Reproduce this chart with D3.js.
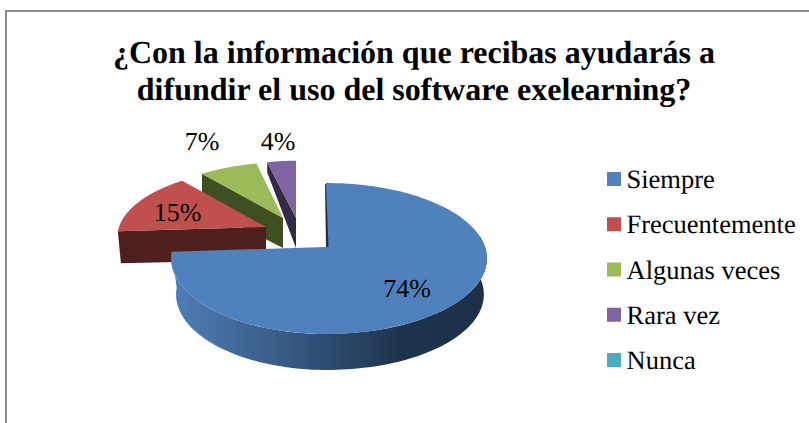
<!DOCTYPE html>
<html><head><meta charset="utf-8">
<script src="https://cdn.jsdelivr.net/npm/d3@7"></script>
<style>html,body{margin:0;padding:0;background:#fff}svg{display:block}text{font-family:"Liberation Serif",serif;fill:#000;text-rendering:geometricPrecision}</style>
</head><body><svg id="c" width="809" height="423"></svg>
<script>
const titleLines = ["¿Con la información que recibas ayudarás a", "difundir el uso del software exelearning?"];
const categories = ["Siempre", "Frecuentemente", "Algunas veces", "Rara vez", "Nunca"];
const values = [74, 15, 7, 4, 0];
const labels = ["74%", "15%", "7%", "4%"];
const colors = ["#4f81bd", "#c0504d", "#9bbb59", "#8064a2", "#4bacc6"];
const wallColors = ["#1d3146", "#4e1f1d", "#404f21", "#332a46"];

// Layout of each exploded slice: apex, radii, wall depth at apex and at rim, end-angle twist, label position
const sliceLayout = [
  {ax: 326, ay: 247, rl: 153, rr: 159, rv: 73.75, d0: 36, d1: 36, tw: 0, lx: 407, ly: 296.5},
  {ax: 266, ay: 227, rl: 147, rr: 147, rv: 67, d0: 33, d1: 32, tw: 0, lx: 177.5, ly: 220.5},
  {ax: 283, ay: 218, rl: 142, rr: 142, rv: 64, d0: 30, d1: 33, tw: 2, lx: 202, ly: 150},
  {ax: 296, ay: 218, rl: 133, rr: 133, rv: 66, d0: 30, d1: 10, tw: 0, lx: 278, ly: 150}
];
const persp = 0.152;

const svg = d3.select("#c");
const pie = d3.pie().sort(null).value(d => d);
const arcs = pie(values);

svg.append("rect").attr("x", 6).attr("y", 11).attr("width", 809).attr("height", 430)
  .attr("fill", "#fff").attr("stroke", "#8c8c8c").attr("stroke-width", 2);

const proj = (L, t) => {
  const X = Math.sin(t), Y = Math.cos(t), s = 1 / (1 + persp * Y);
  return [L.ax + (X < 0 ? L.rl : L.rr) * X * s, L.ay - L.rv * Y * s];
};
const line = d3.line();
const arcPts = (L, a0, a1) => d3.range(0, 121).map(i => proj(L, a0 + (a1 - a0) * i / 120));

const defs = svg.append("defs");
const grad = defs.append("linearGradient").attr("id", "wallBlue").attr("gradientUnits", "userSpaceOnUse")
  .attr("x1", 172).attr("x2", 487).attr("y1", 0).attr("y2", 0);
[[0, "#4f7fb8"], [0.25, "#3f6592"], [0.5, "#2d4c70"], [0.72, "#1e344e"], [1, "#1c3046"]]
  .forEach(([o, c]) => grad.append("stop").attr("offset", o).attr("stop-color", c));

// back slices first: purple, green, red, then the big one
[3, 2, 1].forEach(i => {
  const L = sliceLayout[i], a = arcs[i];
  const rim = proj(L, a.startAngle);
  svg.append("path").attr("fill", wallColors[i]).attr("d", line([
    rim, [L.ax, L.ay], [L.ax, L.ay + L.d0], [rim[0] + (i === 1 ? 3 : 0), rim[1] + L.d1]
  ]) + "Z");
  svg.append("path").attr("fill", colors[i]).attr("d",
    line([[L.ax, L.ay], ...arcPts(L, a.startAngle, a.endAngle + L.tw * Math.PI / 180)]) + "Z");
});

// big slice
{
  const L = sliceLayout[0], a = arcs[0];
  const top = arcPts(L, Math.PI * 0.45, a.endAngle);
  const shrink = 0.975;
  const bottom = top.map(p => [L.ax + (p[0] - L.ax) * shrink + 1, p[1] + L.d1]).reverse();
  svg.append("path").attr("fill", "url(#wallBlue)").attr("d", line([...top, ...bottom]) + "Z");
  svg.append("path").attr("fill", colors[0]).attr("d",
    line([[L.ax, L.ay], ...arcPts(L, a.startAngle, a.endAngle)]) + "Z");
  const tp = proj(L, a.startAngle);
  svg.append("path").attr("fill", wallColors[0]).attr("d", line([
    [tp[0] - 1, tp[1] + 1], [tp[0], tp[1] + 1], [L.ax + 2.5, L.ay], [L.ax, L.ay]
  ]) + "Z");
}

// data labels
sliceLayout.forEach((L, i) => {
  svg.append("text").attr("x", L.lx).attr("y", L.ly).attr("text-anchor", "middle")
    .attr("font-size", 26).text(labels[i]);
});

// title
svg.selectAll("text.title").data(titleLines).join("text").attr("class", "title")
  .attr("x", 414).attr("y", (d, i) => 63 + i * 37).attr("text-anchor", "middle")
  .attr("font-size", 32).attr("font-weight", "bold").text(d => d);

// legend
const legendY = d3.scalePoint().domain(categories).range([179, 360]);
const legend = svg.selectAll("g.leg").data(categories).join("g").attr("class", "leg")
  .attr("transform", d => `translate(607,${legendY(d)})`);
legend.append("rect").attr("x", 0).attr("y", -7).attr("width", 14).attr("height", 14)
  .attr("fill", (d, i) => colors[i]);
legend.append("text").attr("x", 19.5).attr("y", 9).attr("font-size", 26.5).text(d => d);
</script></body></html>
